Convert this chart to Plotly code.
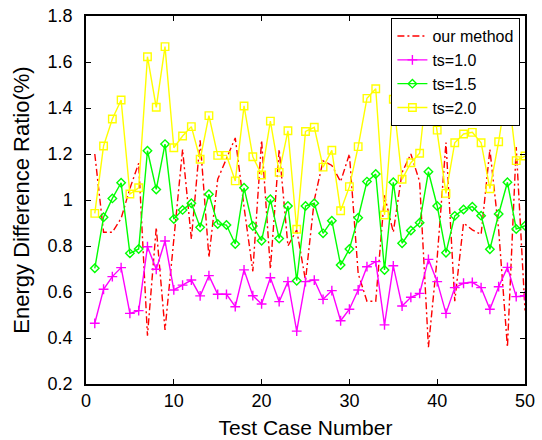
import plotly.graph_objects as go

cases = list(range(1, 51))

our_method = [1.20, 0.86, 0.86, 0.92, 1.05, 1.16, 0.41, 0.88, 0.435, 0.82,
              1.22, 0.83, 1.26, 0.75, 1.09, 1.18, 1.27, 0.97, 0.69, 1.26,
              0.70, 1.22, 0.80, 0.87, 0.65, 1.00, 1.17, 1.15, 1.08, 1.20,
              0.68, 0.56, 0.56, 1.02, 0.86, 1.12, 1.20, 1.08, 0.36, 0.75,
              1.25, 0.56, 0.90, 0.87, 0.85, 1.22, 0.87, 0.36, 1.23, 0.52]

ts_1_0 = [0.464, 0.612, 0.667, 0.706, 0.507, 0.519, 0.797, 0.699, 0.822, 0.609,
          0.630, 0.652, 0.583, 0.671, 0.590, 0.590, 0.536, 0.696, 0.584, 0.548,
          0.662, 0.558, 0.645, 0.430, 0.645, 0.652, 0.568, 0.606, 0.475, 0.525,
          0.609, 0.710, 0.732, 0.457, 0.714, 0.539, 0.577, 0.594, 0.742, 0.645,
          0.507, 0.619, 0.638, 0.642, 0.619, 0.525, 0.623, 0.707, 0.580, 0.584]

ts_1_5 = [0.703, 0.925, 1.007, 1.075, 0.768, 0.787, 1.214, 1.046, 1.243, 0.917,
          0.957, 0.986, 0.881, 1.025, 0.896, 0.891, 0.809, 1.053, 0.887, 0.823,
          1.003, 0.833, 0.974, 0.649, 0.974, 0.986, 0.855, 0.910, 0.717, 0.787,
          0.923, 1.080, 1.113, 0.696, 1.077, 0.812, 0.867, 0.901, 1.123, 0.974,
          0.771, 0.931, 0.959, 0.971, 0.932, 0.786, 0.939, 1.077, 0.874, 0.888]

ts_2_0 = [0.942, 1.235, 1.352, 1.435, 1.026, 1.053, 1.623, 1.403, 1.667, 1.227,
          1.278, 1.319, 1.177, 1.367, 1.194, 1.194, 1.083, 1.409, 1.188, 1.109,
          1.343, 1.120, 1.301, 0.873, 1.298, 1.316, 1.143, 1.216, 0.953, 1.058,
          1.232, 1.442, 1.484, 0.935, 1.438, 1.090, 1.162, 1.203, 1.560, 1.304,
          1.029, 1.249, 1.287, 1.294, 1.249, 1.049, 1.253, 1.500, 1.171, 1.191]

x_ticks = [0, 10, 20, 30, 40, 50]
y_ticks = [0.2, 0.4, 0.6, 0.8, 1.0, 1.2, 1.4, 1.6, 1.8]
y_tick_labels = ["0.2", "0.4", "0.6", "0.8", "1", "1.2", "1.4", "1.6", "1.8"]

FONT = "Liberation Sans, Arial, Helvetica, sans-serif"

fig = go.Figure()
fig.add_trace(go.Scatter(
    x=cases, y=our_method, mode="lines", name="our method",
    line=dict(color="#FF0000", width=1.4, dash="7px,3px,2px,3px"),
))
fig.add_trace(go.Scatter(
    x=cases, y=ts_1_0, mode="lines+markers", name="ts=1.0",
    line=dict(color="#FF00FF", width=1.4),
    marker=dict(symbol="cross-thin-open", size=7, color="#FF00FF",
                line=dict(color="#FF00FF", width=1.4)),
))
fig.add_trace(go.Scatter(
    x=cases, y=ts_1_5, mode="lines+markers", name="ts=1.5",
    line=dict(color="#00FF00", width=1.4),
    marker=dict(symbol="diamond-open", size=6.5, color="#00FF00",
                line=dict(color="#00FF00", width=1.4)),
))
fig.add_trace(go.Scatter(
    x=cases, y=ts_2_0, mode="lines+markers", name="ts=2.0",
    line=dict(color="#FFFF00", width=1.4),
    marker=dict(symbol="square-open", size=7.5, color="#FFFF00",
                line=dict(color="#FFFF00", width=1.4)),
))

axis_common = dict(
    showline=True, linecolor="black", linewidth=1.5, mirror="ticks",
    ticks="inside", ticklen=5, tickwidth=1, tickcolor="black",
    showgrid=False, zeroline=False, automargin=False,
    tickfont=dict(family=FONT, size=18, color="black"),
)

fig.update_xaxes(
    range=[0, 50], tickvals=x_ticks,
    title=dict(text="Test Case Number", font=dict(family=FONT, size=21, color="black"), standoff=10),
    ticklabelstandoff=0,
    **axis_common,
)
fig.update_yaxes(
    range=[0.2, 1.8], tickvals=y_ticks, ticktext=y_tick_labels,
    title=dict(text="Energy Difference Ratio(%)", font=dict(family=FONT, size=22, color="black"), standoff=12),
    ticklabelstandoff=8,
    **axis_common,
)

fig.update_layout(
    width=542, height=440,
    margin=dict(l=86, r=17, t=16, b=56),
    paper_bgcolor="white", plot_bgcolor="white",
    showlegend=True,
    legend=dict(
        x=0.695, y=0.995, xanchor="left", yanchor="top",
        bgcolor="white", bordercolor="black", borderwidth=1.3,
        font=dict(family=FONT, size=16, color="black"),
        tracegroupgap=0, itemwidth=30,
    ),
)

fig.write_html("out.html")
